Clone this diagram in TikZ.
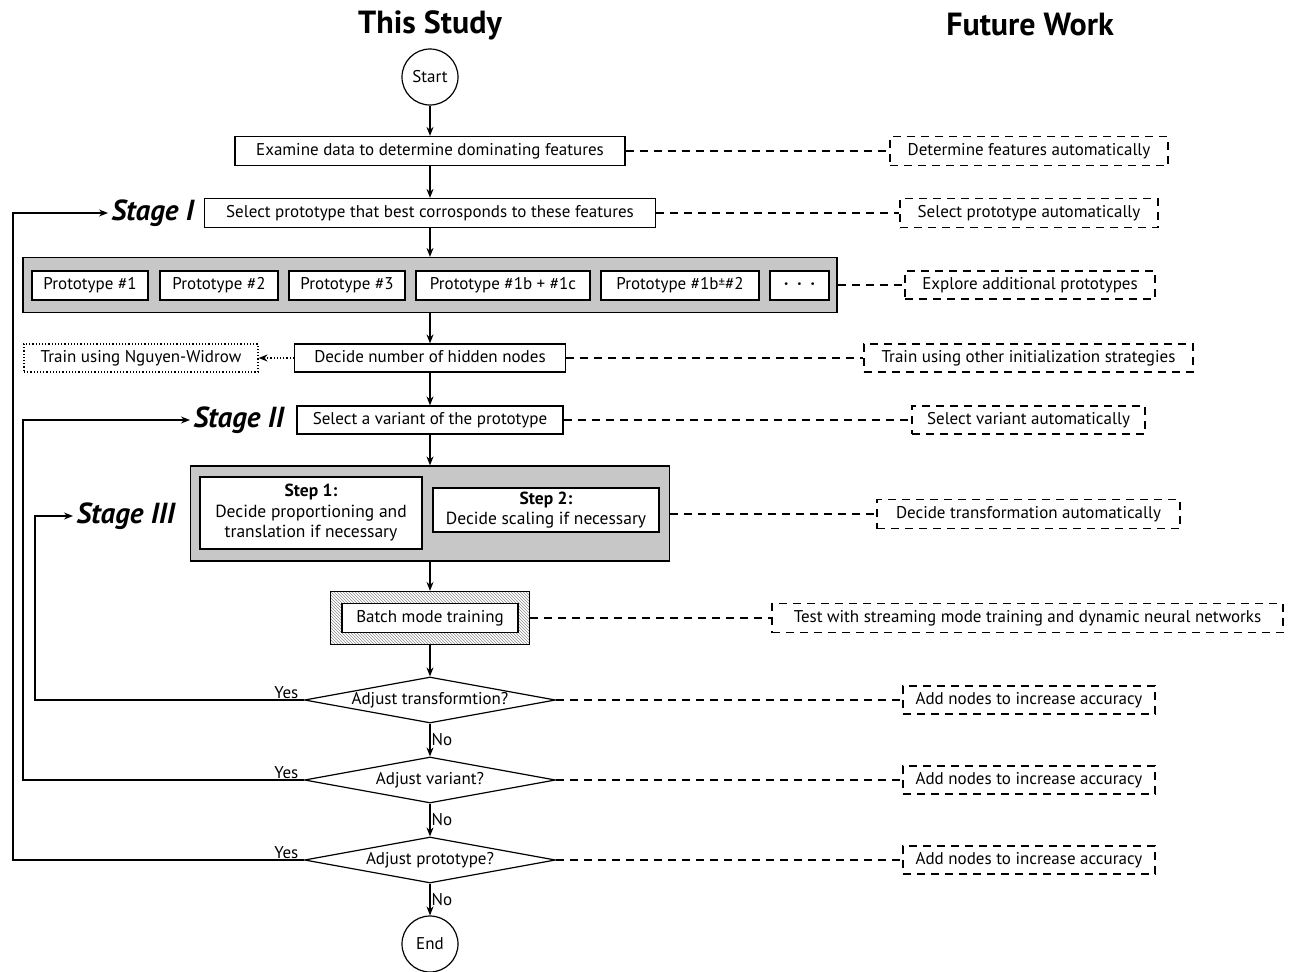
\documentclass[tikz,border=0pt]{standalone}
\usepackage{fontspec}
\setmainfont{PT Sans}
\usetikzlibrary{arrows.meta,shapes.geometric,patterns}
\begin{document}
\begin{tikzpicture}[x=1pt,y=-1pt,
  font=\fontsize{17}{20}\selectfont,
  line width=1.2pt,
  box/.style={draw,fill=white,inner sep=0pt,minimum height=29pt,text height=12.5pt,text depth=4pt},
  fut/.style={draw,dash pattern=on 8pt off 6pt,inner sep=0pt,minimum height=29pt,text height=12.5pt,text depth=4pt},
  grp/.style={draw,fill=black!22,inner sep=0pt},
  dia/.style={draw,diamond,aspect=5.4,inner sep=0pt,minimum width=251pt,minimum height=46pt},
  term/.style={draw,circle,minimum size=56pt,inner sep=0pt},
  arr/.style={-{Stealth[length=9pt,width=7pt]}},
  dsh/.style={dash pattern=on 8pt off 6pt},
  stage/.style={font=\fontsize{29}{33}\selectfont\bfseries\itshape,inner sep=0pt,anchor=west},
  ttl/.style={font=\fontsize{32}{36}\selectfont\bfseries},
  lbl/.style={inner sep=1pt},
  yes/.style={inner sep=1pt,pos=0,anchor=south east,xshift=-4pt}
]
\useasboundingbox (0,0) rectangle (1296,972);

\node[ttl] (t1) at (430,25) {This Study};
\node[ttl] (t2) at (1030,25) {Future Work};

\node[term] (start) at (430,77) {Start};
\node[box,minimum width=390pt] (b1) at (430,151) {Examine data to determine dominating features};
\node[fut,minimum width=278pt] (f1) at (1029,151) {Determine features automatically};

\node[box,minimum width=451pt] (b2) at (430,213) {Select prototype that best corrosponds to these features};
\node[fut,minimum width=258pt] (f2) at (1029,213) {Select prototype automatically};
\node[stage] (s1) at (111,213) {Stage I};

\node[grp,minimum width=814pt,minimum height=55pt] (g1) at (430,285) {};
\node[box,minimum width=116pt] (p1) at (90,285.5) {Prototype \#1};
\node[box,minimum width=118pt] (p2) at (219,285.5) {Prototype \#2};
\node[box,minimum width=116pt] (p3) at (347,285.5) {Prototype \#3};
\node[box,minimum width=174pt] (p4) at (503,285.5) {Prototype \#1b + \#1c};
\node[box,minimum width=158pt] (p5) at (680,285.5) {Prototype \#1b{\fontsize{13}{15}\selectfont\raisebox{2.5pt}{±}}\#2};
\node[box,minimum width=59pt] (p6) at (799.5,285.5) {\textbf{·\hspace{9pt}·\hspace{9pt}·}};
\node[fut,minimum width=250pt,minimum height=28pt] (f3) at (1030,285) {Explore additional prototypes};

\node[box,minimum width=271pt,minimum height=28pt] (b3) at (430,358) {Decide number of hidden nodes};
\node[box,dotted,minimum width=234pt,minimum height=28pt] (nw) at (141,358) {Train using Nguyen-Widrow};
\node[fut,minimum width=329pt,minimum height=28pt] (f4) at (1028.5,358) {Train using other initialization strategies};

\node[box,minimum width=266pt,minimum height=28pt] (b4) at (430,420) {Select a variant of the prototype};
\node[fut,minimum width=233pt,minimum height=28pt] (f5) at (1028.5,420) {Select variant automatically};
\node[stage] (s2) at (193,420) {Stage II};

\node[grp,minimum width=479pt,minimum height=95pt] (g2) at (430,513.5) {};
\node[draw,fill=white,minimum width=222pt,minimum height=72pt,inner sep=0pt,align=center,font=\fontsize{17.5}{20.5}\selectfont] (st1) at (311,513) {\textbf{Step 1:}\\Decide proportioning and\\translation if necessary};
\node[draw,fill=white,minimum width=226pt,minimum height=44pt,inner sep=0pt,align=center,font=\fontsize{17.5}{20.5}\selectfont] (st2) at (546,510) {\textbf{Step 2:}\\Decide scaling if necessary};
\node[fut,minimum width=303pt] (f6) at (1028.5,514) {Decide transformation automatically};
\node[stage] (s3) at (76,516) {Stage III};

\node[draw,pattern=north west lines,pattern color=black!45,minimum width=199pt,minimum height=53pt,inner sep=0pt] (bo) at (430,618) {};
\node[box,minimum width=176pt] (bt) at (430,618) {Batch mode training};
\node[fut,minimum width=511pt] (f7) at (1027.5,618) {Test with streaming mode training and dynamic neural networks};

\node[dia] (d1) at (430,700) {Adjust transformtion?};
\node[dia] (d2) at (430,780) {Adjust variant?};
\node[dia] (d3) at (430,860) {Adjust prototype?};
\node[fut,minimum width=252pt,minimum height=28pt] (f8) at (1029,700) {Add nodes to increase accuracy};
\node[fut,minimum width=252pt,minimum height=28pt] (f9) at (1029,780) {Add nodes to increase accuracy};
\node[fut,minimum width=252pt,minimum height=28pt] (f10) at (1029,860) {Add nodes to increase accuracy};

\node[term] (end) at (430,944) {End};

% main flow
\draw[arr] (start) -- (b1);
\draw[arr] (b1) -- (b2);
\draw[arr] (b2) -- (g1);
\draw[arr] (g1) -- (b3);
\draw[arr] (b3) -- (b4);
\draw[arr] (b4) -- (g2);
\draw[arr] (g2) -- (bo);
\draw[arr] (bo) -- (d1);
\draw[arr] (d1) -- node[lbl,right]{No} (d2);
\draw[arr] (d2) -- node[lbl,right]{No} (d3);
\draw[arr] (d3) -- node[lbl,right]{No} (end);

% dotted
\draw[dotted,arr] (b3) -- (nw);

% loops
\coordinate (c1) at (13,860);
\coordinate (c2) at (23,780);
\coordinate (c3) at (35,700);
\draw[arr] (d3.west) -- node[yes]{Yes} (c1) |- ([xshift=-3pt]s1.west);
\draw[arr] (d2.west) -- node[yes]{Yes} (c2) |- ([xshift=-3pt]s2.west);
\draw[arr] (d1.west) -- node[yes]{Yes} (c3) |- ([xshift=-3pt]s3.west);

% dashed links
\draw[dsh] (b1) -- (f1);
\draw[dsh] (b2) -- (f2);
\draw[dsh] (g1) -- (f3);
\draw[dsh] (b3) -- (f4);
\draw[dsh] (b4) -- (f5);
\draw[dsh] (g2.east |- f6) -- (f6);
\draw[dsh] (bo) -- (f7);
\draw[dsh] (d1) -- (f8);
\draw[dsh] (d2) -- (f9);
\draw[dsh] (d3) -- (f10);
\end{tikzpicture}
\end{document}
